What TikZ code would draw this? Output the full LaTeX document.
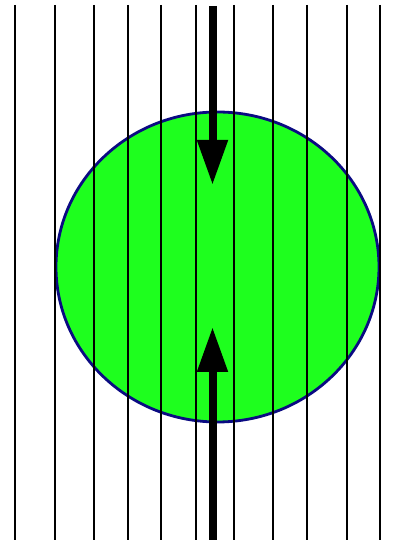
\documentclass[tikz,border=0pt]{standalone}
\usetikzlibrary{arrows.meta}
\definecolor{ballgreen}{RGB}{30,255,30}
\definecolor{ballnavy}{RGB}{10,10,130}
\begin{document}
\begin{tikzpicture}[x=1pt,y=1pt,
  fieldline/.style={line width=2.8pt,black},
  thickline/.style={line width=8pt,black,-{Triangle[width=29pt,length=45pt]}},
  ball/.style={fill=ballgreen,draw=ballnavy,line width=2.8pt}]
\useasboundingbox (0,0) rectangle (405,544);
\fill[white] (0,0) rectangle (405,544);
\draw[ball] (217.5,277) ellipse [x radius=161.5,y radius=155];
\foreach \x in {15,55,94,128,161,196,234,273,307,347,380}{
  \draw[fieldline] (\x,539) -- (\x,4);
}
\coordinate (topstart) at (212.5,538);
\coordinate (toptip) at (212.5,359);
\coordinate (botstart) at (212.5,4);
\coordinate (bottip) at (212.5,217);
\draw[thickline] (topstart) -- (toptip);
\draw[thickline] (botstart) -- (bottip);
\end{tikzpicture}
\end{document}
